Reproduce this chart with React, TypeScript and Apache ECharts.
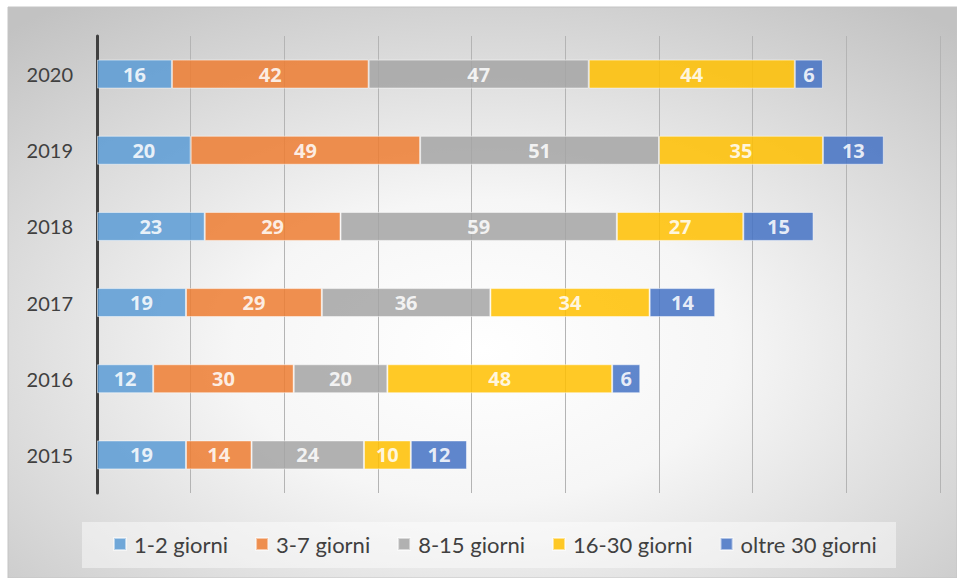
import React, { useEffect, useRef } from "react";
import * as echarts from "echarts";

const years = ["2015", "2016", "2017", "2018", "2019", "2020"];
const seriesNames = ["1-2 giorni", "3-7 giorni", "8-15 giorni", "16-30 giorni", "oltre 30 giorni"];
const d1_2 = [19, 12, 19, 23, 20, 16];
const d3_7 = [14, 30, 29, 29, 49, 42];
const d8_15 = [24, 20, 36, 59, 51, 47];
const d16_30 = [10, 48, 34, 27, 35, 44];
const dOltre = [12, 6, 14, 15, 13, 6];
const colors = ["#5B9BD5", "#ED7D31", "#A5A5A5", "#FFC000", "#4472C4"];

const FONT = "Lato, 'Open Sans', sans-serif";
const BOLD_FONT = "'Open Sans', Lato, sans-serif";

export default function App() {
  const ref = useRef<HTMLDivElement>(null);
  useEffect(() => {
    if (!ref.current) return;
    const chart = echarts.init(ref.current, undefined, { renderer: "svg" });
    const allData = [d1_2, d3_7, d8_15, d16_30, dOltre];
    chart.setOption({
      animation: false,
      textStyle: { fontFamily: FONT },
      graphic: [
        {
          type: "rect",
          z: -10,
          silent: true,
          shape: { x: 8, y: 7, width: 949, height: 571 },
          style: {
            fill: {
              type: "radial",
              x: 0.5,
              y: 0.6,
              r: 0.75,
              colorStops: [
                { offset: 0, color: "#ffffff" },
                { offset: 0.35, color: "#f6f6f6" },
                { offset: 1, color: "#c2c2c2" },
              ],
            },
            stroke: "#c4c4c4",
            lineWidth: 1,
          },
        },
        {
          type: "rect",
          z: -5,
          silent: true,
          shape: { x: 82, y: 522, width: 814, height: 46 },
          style: { fill: "rgba(255,255,255,0.45)" },
        },
      ],
      grid: { left: 97, right: 17, top: 36, bottom: 85, containLabel: false },
      xAxis: {
        type: "value",
        min: 0,
        max: 180,
        interval: 20,
        axisLabel: { show: false },
        axisLine: { show: false },
        axisTick: { show: false },
        splitLine: { show: true, lineStyle: { color: "#b4b4b4", width: 1 } },
      },
      yAxis: {
        type: "category",
        data: years,
        axisTick: { show: false },
        axisLine: { show: true, lineStyle: { color: "#404040", width: 3 } },
        axisLabel: { color: "#404040", fontSize: 20, margin: 24, fontFamily: FONT },
      },
      legend: {
        data: seriesNames,
        top: 528,
        left: 108,
        itemWidth: 12,
        itemHeight: 12,
        itemGap: 27,
        icon: "rect",
        textStyle: { color: "#404040", fontSize: 22, fontFamily: FONT, padding: [0, 0, 0, 3] },
      },
      series: seriesNames.map((name, i) => ({
        name,
        type: "bar",
        stack: "total",
        barWidth: 29,
        data: allData[i],
        itemStyle: {
          color: colors[i],
          opacity: 0.85,
          borderColor: "rgba(255,255,255,0.6)",
          borderWidth: 1,
        },
        label: {
          show: true,
          position: "inside",
          color: "#ffffff",
          fontWeight: "bold",
          fontSize: 20,
          fontFamily: BOLD_FONT,
        },
      })),
    });
    return () => chart.dispose();
  }, []);
  return (
    <div
      ref={ref}
      style={{ position: "absolute", left: 0, top: 0, width: 957, height: 578 }}
    />
  );
}
